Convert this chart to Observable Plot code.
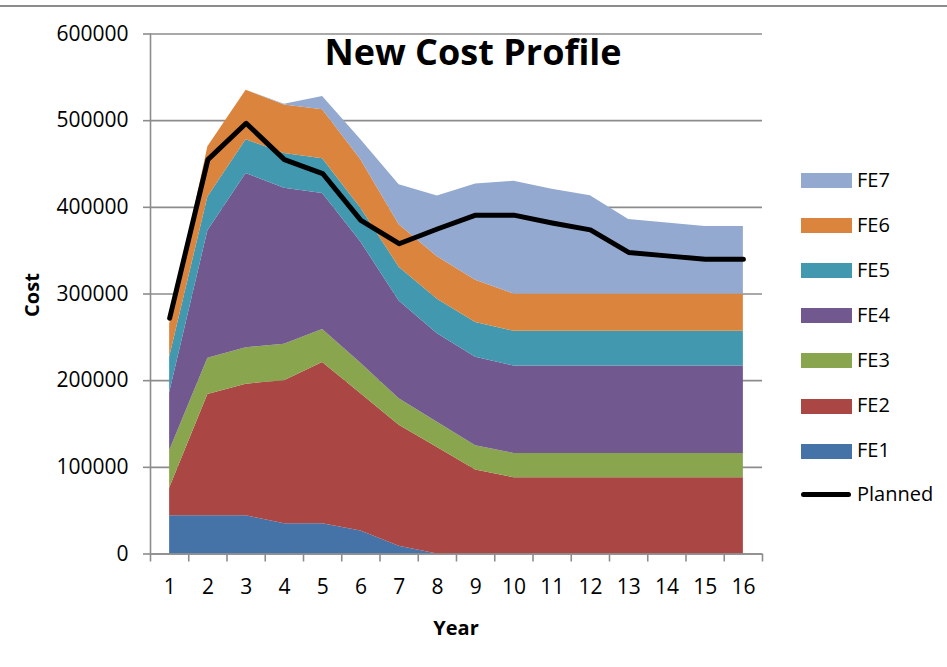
<!DOCTYPE html>
<html><head><meta charset="utf-8">
<script src="https://cdn.jsdelivr.net/npm/d3@7"></script>
<script src="https://cdn.jsdelivr.net/npm/@observablehq/plot@0.6"></script>
<style>
html,body{margin:0;padding:0;background:#fff;}
#wrap{position:relative;width:947px;height:667px;overflow:hidden;font-family:"Open Sans",sans-serif;color:#000;}
#wrap svg{position:absolute;left:0;top:0;}
.abs{position:absolute;white-space:nowrap;line-height:1;}
#border{position:absolute;left:0;top:5px;width:947px;height:2px;background:#8c8c8c;}
#title{font-weight:700;font-size:36px;left:473px;top:34px;transform:translateX(-50%);}
#ylab{font-weight:700;font-size:20px;left:32px;top:295px;transform:translate(-50%,-50%) rotate(-90deg);}
#xlab{font-weight:700;font-size:20px;left:456px;top:628px;transform:translate(-50%,-50%);}
.lg{position:absolute;left:800px;height:45px;}
.sw{position:absolute;left:1px;width:51px;height:15px;}
.ln{position:absolute;left:1px;width:50px;height:5px;border-radius:3px;background:#000;}
.lt{position:absolute;left:57px;font-size:20px;line-height:1;}
</style></head><body><div id="wrap"></div>
<script>
const years = [1,2,3,4,5,6,7,8,9,10,11,12,13,14,15,16];
const seriesNames = ["FE1","FE2","FE3","FE4","FE5","FE6","FE7"];
const seriesColors = ["#4572A7","#AA4643","#89A54E","#71588F","#4198AF","#DB843D","#93A9CF"];
const FE1 = [44000,44000,44000,35000,35000,26500,9000,0,0,0,0,0,0,0,0,0];
const FE2 = [32000,140000,152000,165000,186000,158500,139500,123000,97000,88000,88000,88000,88000,88000,88000,88000];
const FE3 = [43000,42000,42000,42000,38000,35000,30500,29000,28000,28000,28000,28000,28000,28000,28000,28000];
const FE4 = [67000,147000,201000,180000,157000,140000,113000,102000,102000,101000,101000,101000,101000,101000,101000,101000];
const FE5 = [41000,39000,39000,40000,40000,39000,39000,40000,40000,40000,40000,40000,40000,40000,40000,40000];
const FE6 = [38000,58000,57000,56000,56500,56000,49000,49000,49000,43000,43000,43000,43000,43000,43000,43000];
const FE7 = [0,0,0,1000,15500,23000,46000,70000,111000,130000,121000,113500,86000,82000,78000,78000];
const planned = [272000,455000,497000,455000,439000,385000,358000,375000,391000,391000,382000,374000,348000,344000,340000,340000];
const yTicks = [0,100000,200000,300000,400000,500000,600000];
const legendOrder = ["FE7","FE6","FE5","FE4","FE3","FE2","FE1"];

const seriesValues = [FE1,FE2,FE3,FE4,FE5,FE6,FE7];
const rows = seriesNames.flatMap((s,i)=>years.map((yr,j)=>({year:yr, series:s, value:seriesValues[i][j]})));
const plannedRows = years.map((yr,j)=>({year:yr, value:planned[j]}));
const bounds = [years[0]-0.5, ...years.map(y=>y+0.5)];
const grey = "#8c8c8c";

const chart = Plot.plot({
  width:947, height:667,
  marginLeft:150, marginRight:185, marginTop:33.5, marginBottom:113.5,
  x:{type:"linear", domain:[bounds[0], bounds[bounds.length-1]]},
  y:{domain:[0,600000]},
  color:{domain:seriesNames, range:seriesColors},
  style:{fontFamily:"'Open Sans',sans-serif", fontSize:"21px", color:"#000", background:"transparent"},
  marks:[
    Plot.gridY(yTicks,{stroke:grey, strokeOpacity:1, strokeWidth:1.6}),
    Plot.areaY(rows,{x:"year", y:"value", z:"series", fill:"series", order:seriesNames}),
    Plot.line(plannedRows,{x:"year", y:"value", stroke:"#000", strokeWidth:5, strokeLinejoin:"round", strokeLinecap:"round"}),
    Plot.ruleX([bounds[0]],{stroke:grey, strokeWidth:1.6}),
    Plot.ruleY([0],{stroke:grey, strokeWidth:1.6}),
    Plot.axisY(yTicks,{tickSize:7, tickPadding:15, tickFormat:d3.format("d"), stroke:grey, strokeWidth:1.6, strokeOpacity:1, label:null, fontSize:21}),
    Plot.axisX(bounds,{tickSize:8, tickFormat:()=>"", stroke:grey, strokeWidth:1.6, strokeOpacity:1, label:null}),
    Plot.axisX(years,{tickSize:0, tickPadding:25, tickFormat:d=>String(d), label:null, fontSize:21})
  ]
});
const wrap = document.getElementById("wrap");
wrap.appendChild(chart);
wrap.insertAdjacentHTML("beforeend", `<div id="border"></div>
<div class="abs" id="title">New Cost Profile</div>
<div class="abs" id="ylab">Cost</div>
<div class="abs" id="xlab">Year</div>`);
legendOrder.forEach((s,i)=>{
  const c = seriesColors[seriesNames.indexOf(s)];
  const cy = 180.5 + i*45.1;
  wrap.insertAdjacentHTML("beforeend", `<div class="lg" style="top:${cy-22.5}px"><div class="sw" style="top:15px;background:${c}"></div><div class="lt" style="top:11.5px">${s}</div></div>`);
});
const pc = 494.5;
wrap.insertAdjacentHTML("beforeend", `<div class="lg" style="top:${pc-22.5}px"><div class="ln" style="top:20px"></div><div class="lt" style="top:11.5px">Planned</div></div>`);
</script></body></html>
